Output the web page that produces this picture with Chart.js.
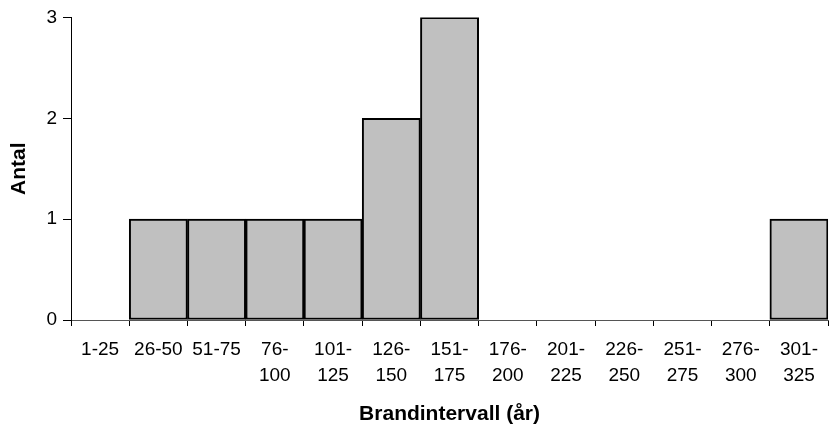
<!DOCTYPE html>
<html>
<head>
<meta charset="utf-8">
<script src="https://cdn.jsdelivr.net/npm/chart.js@4/dist/chart.umd.min.js"></script>
<style>
  html, body { margin: 0; padding: 0; background: #fff; }
  #wrap { width: 829px; height: 427px; }
</style>
</head>
<body>
<div id="wrap"><canvas id="histChart"></canvas></div>
<script>
// Brandintervall histogram
const intervals = [
  ['1-25'], ['26-50'], ['51-75'], ['76-', '100'], ['101-', '125'],
  ['126-', '150'], ['151-', '175'], ['176-', '200'], ['201-', '225'],
  ['226-', '250'], ['251-', '275'], ['276-', '300'], ['301-', '325']
];
const counts = [0, 1, 1, 1, 1, 2, 3, 0, 0, 0, 0, 0, 1];
const yTicks = [0, 1, 2, 3];

const font = 'Liberation Sans, Arial, sans-serif';

document.addEventListener('DOMContentLoaded', function() {
  const ctx = document.getElementById('histChart').getContext('2d');

  new Chart(ctx, {
    type: 'bar',
    data: {
      labels: intervals,
      datasets: [{
        label: 'Antal',
        data: counts,
        backgroundColor: '#C0C0C0',
        borderColor: '#000000',
        borderWidth: 2,
        borderSkipped: false,
        barPercentage: 1,
        categoryPercentage: 1
      }]
    },
    options: {
      responsive: true,
      maintainAspectRatio: false,
      animation: false,
      layout: { padding: { top: 16, right: 0, left: 0, bottom: 0 } },
      plugins: {
        legend: { display: false },
        tooltip: { enabled: false }
      },
      scales: {
        x: {
          offset: true,
          grid: {
            offset: true,
            drawOnChartArea: false,
            drawTicks: true,
            tickLength: 6,
            color: '#000000'
          },
          border: { display: true, color: '#555555', width: 1 },
          ticks: {
            color: '#000000',
            font: { family: font, size: 19, lineHeight: 1.37 },
            padding: 11,
            maxRotation: 0,
            autoSkip: false
          },
          title: {
            display: true,
            text: 'Brandintervall (år)',
            color: '#000000',
            font: { family: font, size: 21, weight: 'bold' },
            padding: { top: 4, bottom: 0 }
          },
          afterFit: function(scale) { scale.height = 107; }
        },
        y: {
          min: 0,
          max: 3,
          afterBuildTicks: function(scale) {
            scale.ticks = yTicks.map(v => ({ value: v }));
          },
          grid: {
            drawOnChartArea: false,
            drawTicks: true,
            tickLength: 8,
            color: '#000000'
          },
          border: { display: true, color: '#000000', width: 1 },
          ticks: {
            color: '#000000',
            font: { family: font, size: 19 },
            padding: 6
          },
          title: {
            display: true,
            text: 'Antal',
            color: '#000000',
            font: { family: font, size: 21, weight: 'bold' },
            padding: { top: 7, bottom: 4 }
          },
          afterFit: function(scale) { scale.width = 71; }
        }
      }
    }
  });
});
</script>
</body>
</html>
